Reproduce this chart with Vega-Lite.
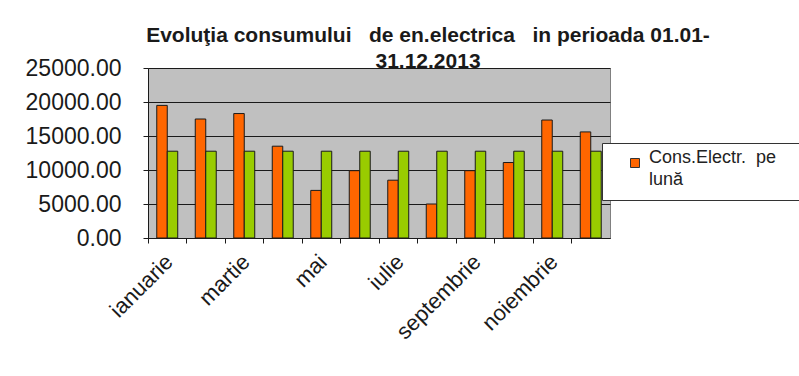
{
  "$schema": "https://vega.github.io/schema/vega-lite/v6.json",
  "width": 462,
  "height": 170,
  "autosize": {"type": "none"},
  "padding": {"left": 148, "top": 68, "right": 189, "bottom": 138},
  "background": "white",
  "config": {
    "font": "Liberation Sans",
    "view": {"fill": "#C0C0C0", "stroke": "#808080", "strokeWidth": 1},
    "style": {"guide-label": {"lineHeight": 22}}
  },
  "title": {
    "text": ["Evoluţia consumului\u00a0\u00a0 de en.electrica\u00a0\u00a0 in perioada 01.01-", "31.12.2013"],
    "font": "Liberation Sans",
    "fontSize": 21,
    "fontWeight": "bold",
    "color": "#1a1a1a",
    "lineHeight": 26,
    "anchor": "middle",
    "frame": "group",
    "baseline": "alphabetic",
    "dx": 49,
    "dy": 32,
    "offset": 0
  },
  "data": {
    "values": [
      {"luna": "ianuarie", "serie": "Cons.Electr.  pe lună", "valoare": 19500},
      {"luna": "ianuarie", "serie": "Medie lunară", "valoare": 12762},
      {"luna": "februarie", "serie": "Cons.Electr.  pe lună", "valoare": 17500},
      {"luna": "februarie", "serie": "Medie lunară", "valoare": 12762},
      {"luna": "martie", "serie": "Cons.Electr.  pe lună", "valoare": 18300},
      {"luna": "martie", "serie": "Medie lunară", "valoare": 12762},
      {"luna": "aprilie", "serie": "Cons.Electr.  pe lună", "valoare": 13500},
      {"luna": "aprilie", "serie": "Medie lunară", "valoare": 12762},
      {"luna": "mai", "serie": "Cons.Electr.  pe lună", "valoare": 7000},
      {"luna": "mai", "serie": "Medie lunară", "valoare": 12762},
      {"luna": "iunie", "serie": "Cons.Electr.  pe lună", "valoare": 9900},
      {"luna": "iunie", "serie": "Medie lunară", "valoare": 12762},
      {"luna": "iulie", "serie": "Cons.Electr.  pe lună", "valoare": 8500},
      {"luna": "iulie", "serie": "Medie lunară", "valoare": 12762},
      {"luna": "august", "serie": "Cons.Electr.  pe lună", "valoare": 5000},
      {"luna": "august", "serie": "Medie lunară", "valoare": 12762},
      {"luna": "septembrie", "serie": "Cons.Electr.  pe lună", "valoare": 9900},
      {"luna": "septembrie", "serie": "Medie lunară", "valoare": 12762},
      {"luna": "octombrie", "serie": "Cons.Electr.  pe lună", "valoare": 11100},
      {"luna": "octombrie", "serie": "Medie lunară", "valoare": 12762},
      {"luna": "noiembrie", "serie": "Cons.Electr.  pe lună", "valoare": 17350},
      {"luna": "noiembrie", "serie": "Medie lunară", "valoare": 12762},
      {"luna": "decembrie", "serie": "Cons.Electr.  pe lună", "valoare": 15600},
      {"luna": "decembrie", "serie": "Medie lunară", "valoare": 12762}
    ]
  },
  "layer": [
    {
      "mark": {"type": "bar", "stroke": "#1a1a1a", "strokeWidth": 1},
      "encoding": {
        "x": {
          "field": "luna",
          "type": "nominal",
          "sort": null,
          "scale": {"paddingInner": 0.455, "paddingOuter": 0.2275},
          "title": null,
          "axis": {
            "orient": "bottom",
            "values": ["ianuarie", "martie", "mai", "iulie", "septembrie", "noiembrie"],
            "ticks": false,
            "domain": false,
            "grid": false,
            "labelAngle": -45,
            "labelAlign": "right",
            "labelBaseline": "middle",
            "labelFontSize": 22,
            "labelColor": "#1a1a1a",
            "labelPadding": 20,
            "labelOffset": 2,
            "labelOverlap": false
          }
        },
        "xOffset": {"field": "serie", "sort": null, "scale": {"paddingInner": 0, "paddingOuter": 0}},
        "y": {
          "field": "valoare",
          "type": "quantitative",
          "scale": {"domain": [0, 25000], "nice": false},
          "title": null,
          "axis": {
            "values": [0, 5000, 10000, 15000, 20000, 25000],
            "format": ".2f",
            "labelFontSize": 23,
            "labelColor": "#1a1a1a",
            "labelPadding": 22,
            "labelOverlap": false,
            "labelFlush": false,
            "tickSize": 5,
            "tickColor": "#1a1a1a",
            "domainColor": "#1a1a1a",
            "gridColor": "#1a1a1a",
            "gridOpacity": 1,
            "grid": true
          }
        },
        "color": {
          "field": "serie",
          "type": "nominal",
          "scale": {"domain": ["Cons.Electr.  pe lună", "Medie lunară"], "range": ["#FF6600", "#99CC00"]},
          "legend": {
            "values": ["Cons.Electr.  pe lună"],
            "title": "\u00a0",
            "titleOrient": "right",
            "titlePadding": 14,
            "titleFontSize": 8,
            "orient": "none",
            "legendX": 454,
            "legendY": 75,
            "fillColor": "white",
            "strokeColor": "#333333",
            "padding": 11,
            "symbolType": "square",
            "symbolSize": 81,
            "symbolOffset": 13,
            "symbolStrokeColor": "#333333",
            "symbolStrokeWidth": 1,
            "symbolOpacity": 1,
            "labelExpr": "['Cons.Electr.\u00a0 pe', 'lună']",
            "labelFontSize": 18,
            "labelColor": "#222222",
            "labelLimit": 400,
            "labelOffset": 5,
            "labelBaseline": "alphabetic"
          }
        }
      }
    },
    {
      "mark": {"type": "point", "opacity": 0},
      "encoding": {
        "x": {
          "field": "luna",
          "type": "nominal",
          "sort": null,
          "title": null,
          "axis": {
            "orient": "bottom",
            "labels": false,
            "grid": false,
            "bandPosition": 0,
            "tickOffset": -8.76,
            "tickSize": 5,
            "tickColor": "#1a1a1a",
            "domainColor": "#1a1a1a"
          }
        }
      }
    }
  ],
  "resolve": {"axis": {"x": "independent"}}
}
